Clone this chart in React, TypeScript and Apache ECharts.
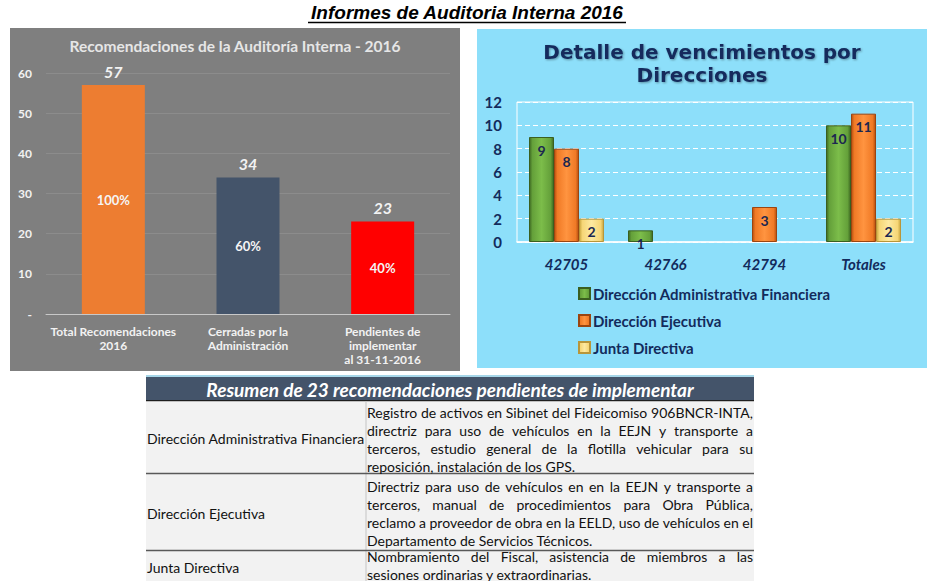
import React, { useEffect, useRef } from "react";
import * as echarts from "echarts";

// ---------- Data ----------
const pageTitle = "Informes de Auditoria Interna 2016";

const leftTitle = "Recomendaciones de la Auditoría Interna - 2016";
const leftCategories = [
  "Total Recomendaciones\n2016",
  "Cerradas por la\nAdministración",
  "Pendientes de\nimplementar\nal 31-11-2016",
];
const leftValues = [57, 34, 23];
const leftPercents = ["100%", "60%", "40%"];
const leftColors = ["#ed7d31", "#44546a", "#ff0000"];

const rightTitle = "Detalle de vencimientos por\nDirecciones";
const rightCategories = ["42705", "42766", "42794", "Totales"];
const seriesNames = [
  "Dirección Administrativa Financiera",
  "Dirección Ejecutiva",
  "Junta Directiva",
];
const dafValues = [9, 1, null, 10];
const ejecValues = [8, null, 3, 11];
const juntaValues = [2, null, null, 2];

const tableHeader = "Resumen de 23 recomendaciones pendientes de implementar";
const tableDirections = [
  "Dirección Administrativa Financiera",
  "Dirección Ejecutiva",
  "Junta Directiva",
];
const tableDescriptions = [
  [
    "Registro de activos en Sibinet del Fideicomiso 906BNCR-INTA,",
    "directriz para uso de vehículos en la EEJN y transporte a",
    "terceros, estudio general de la flotilla vehicular para su",
    "reposición, instalación de los GPS.",
  ],
  [
    "Directriz para uso de vehículos en en la EEJN y transporte a",
    "terceros, manual de procedimientos para Obra Pública,",
    "reclamo a proveedor de obra en la EELD, uso de vehículos en el",
    "Departamento de Servicios Técnicos.",
  ],
  [
    "Nombramiento del Fiscal, asistencia de miembros a las",
    "sesiones ordinarias y extraordinarias.",
  ],
];

// ---------- Styles ----------
const NAVY = "#132b5c";
const CAL = "Lato, 'Open Sans', sans-serif";

function grad(dark: string, mid: string, light: string) {
  return new echarts.graphic.LinearGradient(0, 0, 1, 0, [
    { offset: 0, color: dark },
    { offset: 0.12, color: mid },
    { offset: 0.5, color: light },
    { offset: 0.88, color: mid },
    { offset: 1, color: dark },
  ]);
}

const rightFills = [
  grad("#3e6a22", "#64a03a", "#7cbd4a"),
  grad("#b8500f", "#f07a26", "#ff9440"),
  grad("#c9a640", "#f6d676", "#fde9a0"),
];
const rightBorders = ["#3a5f20", "#9b4510", "#b8963a"];

export default function App() {
  const ref = useRef<HTMLDivElement>(null);

  useEffect(() => {
    if (!ref.current) return;
    const chart = echarts.init(ref.current, undefined, { renderer: "svg" });

    // table geometry
    const tX = 146;
    const tW = 608;
    const colX = 366;
    const textL = colX + 1;
    const textR = tX + tW - 1;
    const rowTops = [401, 474, 551];
    const rowBottoms = [473, 550, 581];
    const lineH = 18;
    const descStarts = [412, 486, 556];
    const cellFont = `14px ${CAL}`;

    const measurer = document.createElement("canvas").getContext("2d") as CanvasRenderingContext2D;
    measurer.font = cellFont;

    const tableGraphics: any[] = [
      { type: "rect", z: -5, shape: { x: tX, y: 375, width: tW, height: 2 }, style: { fill: "#a6d6e8" } },
      { type: "rect", z: -5, shape: { x: tX, y: 377, width: tW, height: 23 }, style: { fill: "#44546a" } },
      { type: "rect", z: -5, shape: { x: tX, y: 400, width: tW, height: 1.5 }, style: { fill: "#1e1e1e" } },
      { type: "rect", z: -5, shape: { x: tX, y: 401.5, width: tW, height: 180 }, style: { fill: "#f2f2f2" } },
      { type: "line", z: -4, shape: { x1: colX, y1: 401, x2: colX, y2: 581 }, style: { stroke: "#c4c4c4", lineWidth: 1 } },
      {
        type: "text",
        x: tX + tW / 2,
        y: 389,
        style: {
          text: tableHeader,
          fill: "#ffffff",
          font: `italic bold 19px ${CAL}`,
          textAlign: "center",
          textVerticalAlign: "middle",
        },
      },
    ];
    rowBottoms.slice(0, 2).forEach((yb) => {
      tableGraphics.push({
        type: "line",
        z: -4,
        shape: { x1: tX, y1: yb + 0.5, x2: tX + tW, y2: yb + 0.5 },
        style: { stroke: "#595959", lineWidth: 1.5 },
      });
    });
    tableDirections.forEach((d, i) => {
      tableGraphics.push({
        type: "text",
        x: tX + 1,
        y: (rowTops[i] + rowBottoms[i]) / 2 + 1,
        style: { text: d, fill: "#111111", font: cellFont, textVerticalAlign: "middle" },
      });
      const lines = tableDescriptions[i];
      lines.forEach((ln, j) => {
        const y = descStarts[i] + j * lineH;
        const isLast = j === lines.length - 1;
        const words = ln.split(" ").filter((w) => w.length > 0);
        if (isLast || words.length < 2) {
          tableGraphics.push({
            type: "text",
            x: textL,
            y,
            style: { text: ln, fill: "#111111", font: cellFont, textVerticalAlign: "middle" },
          });
          return;
        }
        const widths = words.map((w) => measurer.measureText(w).width);
        const total = widths.reduce((a, b) => a + b, 0);
        const gap = (textR - textL - total) / (words.length - 1);
        let x = textL;
        words.forEach((w, k) => {
          tableGraphics.push({
            type: "text",
            x,
            y,
            style: { text: w, fill: "#111111", font: cellFont, textVerticalAlign: "middle" },
          });
          x += widths[k] + gap;
        });
      });
    });

    const option: any = {
      animation: false,
      backgroundColor: "#ffffff",
      title: [
        {
          text: leftTitle,
          left: 235,
          top: 38,
          textAlign: "center",
          padding: 0,
          textStyle: { color: "#e6e6e6", fontSize: 15.5, fontWeight: "bold", fontFamily: CAL },
        },
        {
          text: rightTitle,
          left: 702,
          top: 40,
          textAlign: "center",
          padding: 0,
          textStyle: {
            color: NAVY,
            fontSize: 20,
            fontWeight: "bold",
            fontFamily: "'DejaVu Sans', Verdana, sans-serif",
            lineHeight: 23,
            textShadowColor: "rgba(0,0,0,0.35)",
            textShadowBlur: 2,
            textShadowOffsetX: 1,
            textShadowOffsetY: 1,
          },
        },
      ],
      legend: {
        data: seriesNames,
        orient: "vertical",
        left: 578,
        top: 285,
        padding: 0,
        itemGap: 10,
        itemWidth: 11,
        itemHeight: 11,
        icon: "rect",
        textStyle: { color: NAVY, fontSize: 15, fontWeight: "bold", fontFamily: CAL, lineHeight: 17, padding: [0, 0, 0, -2] },
      },
      grid: [
        { left: 46, right: 486, top: 73, bottom: 267 },
        {
          left: 517,
          right: 23,
          top: 102,
          bottom: 339,
          show: true,
          borderColor: "#ffffff",
          borderWidth: 1,
          backgroundColor: "transparent",
        },
      ],
      xAxis: [
        {
          type: "category",
          gridIndex: 0,
          data: leftCategories,
          axisTick: { show: false },
          axisLine: { lineStyle: { color: "#c8c8c8", width: 1 } },
          axisLabel: {
            interval: 0,
            color: "#f2f2f2",
            fontWeight: "bold",
            fontSize: 12,
            fontFamily: CAL,
            lineHeight: 14,
            margin: 10,
          },
        },
        {
          type: "category",
          gridIndex: 1,
          data: rightCategories,
          axisTick: { show: false },
          axisLine: { lineStyle: { color: "#ffffff", width: 1.5 } },
          axisLabel: {
            interval: 0,
            color: NAVY,
            fontWeight: "bold",
            fontStyle: "italic",
            fontSize: 15,
            fontFamily: CAL,
            margin: 14,
          },
        },
      ],
      yAxis: [
        {
          type: "value",
          gridIndex: 0,
          min: 0,
          max: 60,
          interval: 10,
          axisLine: { show: false },
          axisTick: { show: false },
          splitLine: { lineStyle: { color: "#8c8c8c", width: 1 } },
          axisLabel: {
            color: "#f2f2f2",
            fontWeight: "bold",
            fontSize: 12,
            fontFamily: CAL,
            margin: 14,
            formatter: (v: number) => (v === 0 ? "-" : String(v)),
          },
        },
        {
          type: "value",
          gridIndex: 1,
          min: 0,
          max: 12,
          interval: 2,
          axisLine: { show: false },
          axisTick: { show: false },
          splitLine: { lineStyle: { color: "#ffffff", width: 1, type: [5, 3] } },
          axisLabel: {
            color: NAVY,
            fontWeight: "bold",
            fontSize: 15,
            fontFamily: CAL,
            margin: 15,
          },
        },
      ],
      series: [
        {
          name: "Recomendaciones",
          type: "bar",
          xAxisIndex: 0,
          yAxisIndex: 0,
          barWidth: 63,
          data: leftValues.map((v, i) => ({ value: v, itemStyle: { color: leftColors[i] } })),
          label: {
            show: true,
            position: "top",
            distance: 6,
            color: "#f2f2f2",
            fontStyle: "italic",
            fontWeight: "bold",
            fontSize: 16,
            fontFamily: CAL,
          },
        },
        {
          name: "Porcentaje",
          type: "bar",
          xAxisIndex: 0,
          yAxisIndex: 0,
          barWidth: 63,
          barGap: "-100%",
          z: 3,
          data: leftValues,
          itemStyle: { color: "rgba(0,0,0,0)" },
          label: {
            show: true,
            position: "inside",
            color: "#f5f5f5",
            fontWeight: "bold",
            fontSize: 13,
            fontFamily: CAL,
            formatter: (p: any) => leftPercents[p.dataIndex],
          },
        },
        ...[dafValues, ejecValues, juntaValues].map((vals, k) => ({
          name: seriesNames[k],
          type: "bar",
          xAxisIndex: 1,
          yAxisIndex: 1,
          barWidth: 25,
          barGap: "0%",
          data: vals,
          itemStyle: { color: rightFills[k], borderColor: rightBorders[k], borderWidth: 1 },
          label: {
            show: true,
            position: "insideTop",
            distance: 6,
            color: "#1c2750",
            fontWeight: "bold",
            fontSize: 14,
            fontFamily: CAL,
          },
        })),
      ],
      graphic: [
        { type: "rect", z: -10, shape: { x: 10, y: 28, width: 450, height: 343 }, style: { fill: "#7f7f7f" } },
        { type: "rect", z: -10, shape: { x: 477, y: 29, width: 450, height: 339 }, style: { fill: "#8ddffa" } },
        {
          type: "text",
          x: 467,
          y: 12,
          style: {
            text: pageTitle,
            fill: "#000000",
            font: "italic bold 19px 'Liberation Sans', Arial, sans-serif",
            textAlign: "center",
            textVerticalAlign: "middle",
          },
        },
        {
          type: "line",
          shape: { x1: 308, y1: 22.5, x2: 626, y2: 22.5 },
          style: { stroke: "#000000", lineWidth: 1.5 },
        },
        ...tableGraphics,
      ],
    };

    chart.setOption(option);
    return () => chart.dispose();
  }, []);

  return (
    <div
      ref={ref}
      style={{ position: "absolute", left: 0, top: 0, width: 936, height: 581 }}
    />
  );
}
